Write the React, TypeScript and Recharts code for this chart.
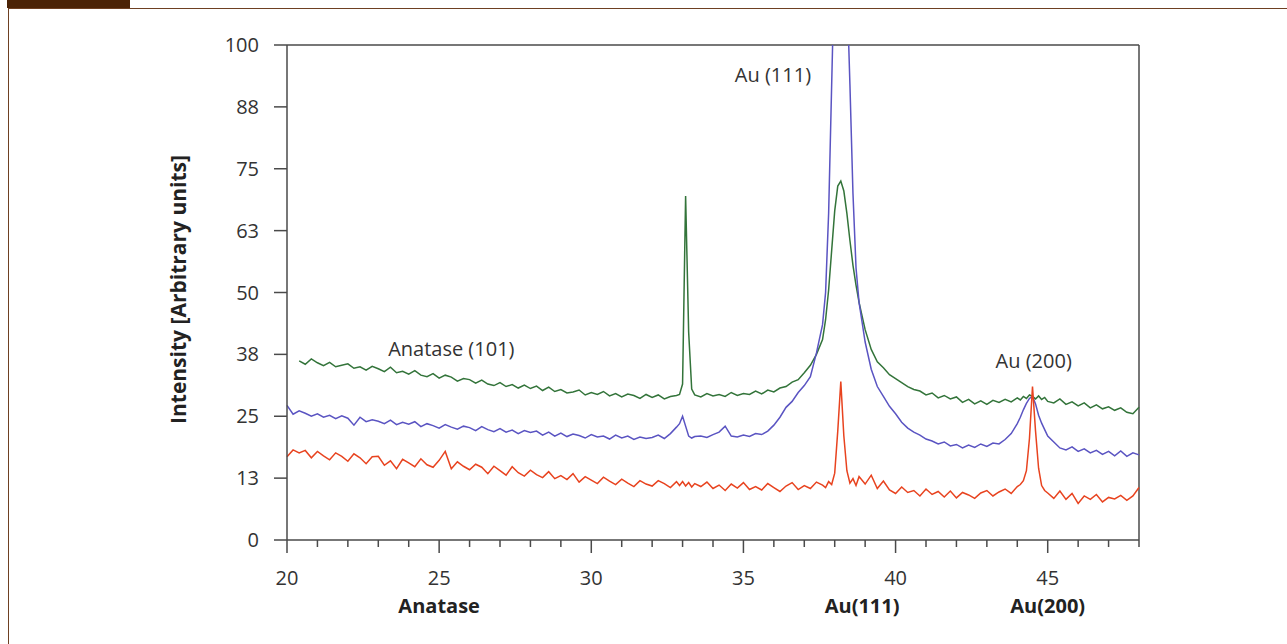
import { LineChart, Line, XAxis, YAxis, ReferenceLine, ReferenceDot, Label } from 'recharts'

// 2-theta scan positions (degrees), finer steps around the peaks
const angles = [
  20.0, 20.2, 20.4, 20.6, 20.8, 21.0, 21.2, 21.4, 21.6, 21.8,
  22.0, 22.2, 22.4, 22.6, 22.8, 23.0, 23.2, 23.4, 23.6, 23.8,
  24.0, 24.2, 24.4, 24.6, 24.8, 25.0, 25.2, 25.4, 25.6, 25.8,
  26.0, 26.2, 26.4, 26.6, 26.8, 27.0, 27.2, 27.4, 27.6, 27.8,
  28.0, 28.2, 28.4, 28.6, 28.8, 29.0, 29.2, 29.4, 29.6, 29.8,
  30.0, 30.2, 30.4, 30.6, 30.8, 31.0, 31.2, 31.4, 31.6, 31.8,
  32.0, 32.2, 32.4, 32.6, 32.8,
  32.9, 33.0, 33.1, 33.2, 33.3, 33.4,
  33.6, 33.8, 34.0, 34.2, 34.4, 34.6, 34.8, 35.0, 35.2, 35.4,
  35.6, 35.8, 36.0, 36.2, 36.4, 36.6, 36.8, 37.0, 37.2, 37.4, 37.6,
  37.7, 37.8, 37.9, 38.0, 38.1, 38.2, 38.3, 38.4, 38.5, 38.6, 38.7, 38.8,
  39.0, 39.2, 39.4, 39.6, 39.8, 40.0, 40.2, 40.4, 40.6, 40.8,
  41.0, 41.2, 41.4, 41.6, 41.8, 42.0, 42.2, 42.4, 42.6, 42.8,
  43.0, 43.2, 43.4, 43.6, 43.8, 44.0,
  44.1, 44.2, 44.3, 44.4, 44.5, 44.6, 44.7, 44.8, 44.9, 45.0,
  45.2, 45.4, 45.6, 45.8, 46.0, 46.2, 46.4, 46.6, 46.8, 47.0,
  47.2, 47.4, 47.6, 47.8, 48.0,
]

const greenIntensity = [
  null, null, 36.2, 35.5, 36.6, 35.8, 35.2, 35.9, 35.0, 35.3,
  35.6, 34.7, 35.0, 34.3, 35.1, 34.6, 34.0, 34.9, 33.8, 34.1,
  33.5, 34.2, 33.3, 33.0, 33.6, 32.7, 33.3, 32.9, 32.1, 32.6,
  32.4, 31.7, 32.3, 31.5, 31.2, 31.8, 31.0, 31.4, 30.7, 31.3,
  30.6, 31.1, 30.2, 30.9, 30.0, 30.4, 29.7, 29.9, 30.3, 29.3,
  29.8, 29.4, 30.0, 29.1, 29.6, 28.9, 29.5, 29.2, 28.6, 29.4,
  28.8, 29.3, 28.5, 29.0, 29.2,
  29.4, 31.5, 69.5, 42.0, 30.5, 29.3,
  28.9, 29.6, 29.1, 29.4, 29.0, 29.8, 29.2, 29.6, 29.4, 30.1,
  29.5, 30.3, 29.9, 30.7, 31.0, 31.9, 32.4, 33.8, 35.3, 37.5, 40.5,
  44.5, 50.5, 58.5, 66.5, 71.5, 72.5, 70.5, 66.0, 60.5, 55.5, 51.5, 48.0,
  42.5, 38.5, 36.0, 34.8, 33.4, 32.6, 31.8, 31.0, 30.4, 30.1,
  29.3, 29.7, 28.7, 29.2, 28.5, 28.9, 27.8, 28.4, 27.5, 28.1,
  27.4, 28.2, 27.8, 28.4, 27.9, 28.7,
  28.3, 29.0, 28.6, 29.3, 29.0, 28.5, 29.1, 28.4, 28.8, 28.0,
  27.7, 28.5, 27.4, 27.9, 27.1, 27.7, 26.7, 27.3, 26.5, 26.9,
  26.2, 26.7, 25.8, 25.5, 26.8,
]

const blueIntensity = [
  27.2, 25.4, 26.1, 25.6, 25.0, 25.5, 24.8, 25.2, 24.5, 25.1,
  24.6, 23.2, 24.8, 23.9, 24.3, 24.0, 23.5, 24.2, 23.3, 23.8,
  23.4, 23.9, 22.9, 23.5, 23.1, 22.6, 23.3, 22.8, 22.4, 23.0,
  22.7, 22.1, 22.9, 22.3, 21.9, 22.5, 21.8, 22.2, 21.5, 22.1,
  21.7, 22.0, 21.2, 21.8, 21.0, 21.6, 20.9, 21.4, 21.1, 20.6,
  21.3, 20.8, 21.0, 20.4, 21.2, 20.6, 21.0, 20.3, 20.8, 20.5,
  20.7, 21.2, 20.5, 21.5, 22.8,
  23.5, 25.0, 23.0, 21.0, 20.6, 20.9,
  21.0, 20.7, 21.3, 21.8, 23.0, 21.0, 20.8, 21.2, 20.9, 21.5,
  21.3, 22.0, 23.2, 24.8, 26.8, 28.0, 29.8, 31.2, 33.0, 37.8, 43.5,
  50.0, 66.0, 92.0, 118.0, 135.0, 140.0, 132.0, 112.0, 92.0, 70.0, 55.0, 48.0,
  40.0, 34.5, 31.0, 29.0, 27.0, 25.5, 23.8, 22.6, 21.8, 21.2,
  20.4, 20.0, 19.4, 19.8, 19.0, 19.3, 18.6, 19.2, 18.7, 19.4,
  18.9, 19.6, 19.4, 20.3, 21.5, 23.5,
  24.8, 26.3, 27.6, 28.6, 29.0, 27.5, 25.2, 23.6, 22.3, 21.0,
  19.8, 18.6, 18.2, 18.8, 17.9, 18.4, 17.6, 18.1, 17.3, 17.9,
  17.0, 18.0, 16.9, 17.6, 17.2,
]

const redIntensity = [
  16.8, 18.2, 17.6, 18.1, 16.6, 17.9, 17.0, 16.2, 17.6, 16.9,
  15.9, 17.4, 16.6, 15.4, 16.8, 16.9, 15.1, 16.0, 14.4, 16.3,
  15.6, 14.8, 16.4, 15.2, 14.7, 16.1, 17.9, 14.4, 15.8, 14.9,
  14.2, 15.3, 14.7, 13.4, 14.9, 14.0, 13.1, 14.8, 13.6, 12.9,
  14.1, 13.2, 12.6, 13.8, 12.4, 13.0, 12.2, 13.4, 11.7, 12.8,
  12.1, 11.4, 12.7, 11.9, 11.2, 12.3, 11.5, 10.8, 12.0, 11.3,
  10.9, 12.0, 11.4, 10.6, 11.8,
  11.0, 11.8, 10.9, 11.6, 10.7, 11.4,
  10.8, 11.7, 10.4, 11.1, 10.0, 11.3, 10.5, 11.6, 10.2, 10.8,
  10.1, 11.4, 10.6, 9.8, 10.9, 11.6, 10.2, 11.0, 10.4, 11.7, 11.1,
  10.6, 11.8, 11.2, 13.5, 22.0, 32.0, 21.0, 14.0, 11.5, 12.4, 11.0, 12.8,
  11.3, 13.1, 10.4, 11.9, 10.1, 9.4, 10.7, 9.6, 10.0, 8.9,
  10.3, 9.2, 9.8, 8.7, 9.9, 8.5, 9.6, 9.1, 8.4, 9.5,
  10.0, 8.9, 9.7, 10.3, 9.4, 10.8,
  11.2, 12.0, 14.0, 20.5, 31.0, 22.0, 14.5, 11.0, 10.0, 9.5,
  8.4, 9.9, 8.2, 9.4, 7.4, 8.9, 8.2, 9.2, 7.7, 8.6,
  8.3, 9.0, 8.0, 8.9, 10.6,
]

const xTicks = [20, 21, 22, 23, 24, 25, 26, 27, 28, 29, 30, 31, 32, 33, 34, 35, 36, 37, 38, 39, 40, 41, 42, 43, 44, 45, 46, 47, 48]
const yTicks = [0, 12.5, 25, 37.5, 50, 62.5, 75, 87.5, 100]
const phaseTicks = [25, 38.9, 45]
const phaseNames = ['Anatase', 'Au(111)', 'Au(200)']

const data = angles.map((angle, i) => ({
  angle,
  green: greenIntensity[i],
  blue: blueIntensity[i],
  red: redIntensity[i],
}))

const font = '"Open Sans", "Noto Sans", sans-serif'
const axisColor = '#4a4a4a'

function AngleTick({ x, y, payload }: any) {
  const v = payload.value
  const major = v % 5 === 0
  return (
    <g>
      <line x1={x} y1={y} x2={x} y2={y + (major ? 13 : 7)} stroke={axisColor} strokeWidth={1.5} />
      {major && v !== 48 && (
        <text x={x} y={y + 45} textAnchor="middle" fontSize={20} fontFamily={font} fill="#333">{v}</text>
      )}
    </g>
  )
}

function PhaseTick({ x, y, payload }: any) {
  const idx = phaseTicks.indexOf(payload.value)
  return (
    <text x={x} y={y + 27} textAnchor="middle" fontSize={20} fontWeight={700} fontFamily={font} fill="#222">
      {phaseNames[idx]}
    </text>
  )
}

function note(text: string) {
  return { value: text, position: 'center' as const, fontSize: 20, fontFamily: font, fill: '#333' }
}

export default function App() {
  return (
    <div style={{ position: 'absolute', left: 0, top: 0, width: 1287, height: 644, background: '#fff' }}>
      <div style={{ position: 'absolute', left: 7, top: 0, width: 123, height: 8, background: '#4b2306' }} />
      <div style={{ position: 'absolute', left: 8, top: 8, right: 0, bottom: 0, borderTop: '1.5px solid #6e4022', borderLeft: '1.5px solid #6e4022' }} />
      <LineChart width={1287} height={644} data={data} margin={{ top: 45, right: 148, bottom: 18, left: 0 }}>
        <XAxis
          dataKey="angle"
          type="number"
          domain={[20, 48]}
          ticks={xTicks}
          interval={0}
          tick={<AngleTick />}
          tickLine={false}
          tickSize={0}
          tickMargin={0}
          height={46}
          stroke={axisColor}
          strokeWidth={1.5}
        />
        <XAxis
          xAxisId="phases"
          dataKey="angle"
          type="number"
          domain={[20, 48]}
          ticks={phaseTicks}
          interval={0}
          tick={<PhaseTick />}
          axisLine={false}
          tickLine={false}
          tickSize={0}
          tickMargin={0}
          height={40}
        />
        <YAxis
          type="number"
          domain={[0, 100]}
          ticks={yTicks}
          interval={0}
          allowDataOverflow
          width={287}
          tickSize={13}
          tickMargin={15}
          tickFormatter={(v: number) => String(Math.round(v))}
          tick={{ fontSize: 20, fontFamily: font, fill: '#333' }}
          stroke={axisColor}
          strokeWidth={1.5}
        >
          <Label
            content={({ viewBox }: any) => {
              const cx = 178
              const cy = viewBox.y + viewBox.height / 2 - 3
              return (
                <text x={cx} y={cy} transform={`rotate(-90 ${cx} ${cy})`} textAnchor="middle" dominantBaseline="central"
                  fontSize={21} fontWeight={700} fontFamily={font} fill="#222">
                  Intensity [Arbitrary units]
                </text>
              )
            }}
          />
        </YAxis>
        <ReferenceLine y={100} stroke={axisColor} strokeWidth={1.5} />
        <ReferenceLine x={48} stroke={axisColor} strokeWidth={1.5} />
        <Line dataKey="green" type="linear" stroke="#33743a" strokeWidth={1.5} dot={false} isAnimationActive={false} />
        <Line dataKey="blue" type="linear" stroke="#5a54c2" strokeWidth={1.5} dot={false} isAnimationActive={false} />
        <Line dataKey="red" type="linear" stroke="#e8431f" strokeWidth={1.5} dot={false} isAnimationActive={false} />
        <ReferenceDot x={25.4} y={38.6} r={0} stroke="none" fill="none" label={note('Anatase (101)')} />
        <ReferenceDot x={35.97} y={93.9} r={0} stroke="none" fill="none" label={note('Au (111)')} />
        <ReferenceDot x={44.54} y={36.2} r={0} stroke="none" fill="none" label={note('Au (200)')} />
      </LineChart>
    </div>
  )
}
